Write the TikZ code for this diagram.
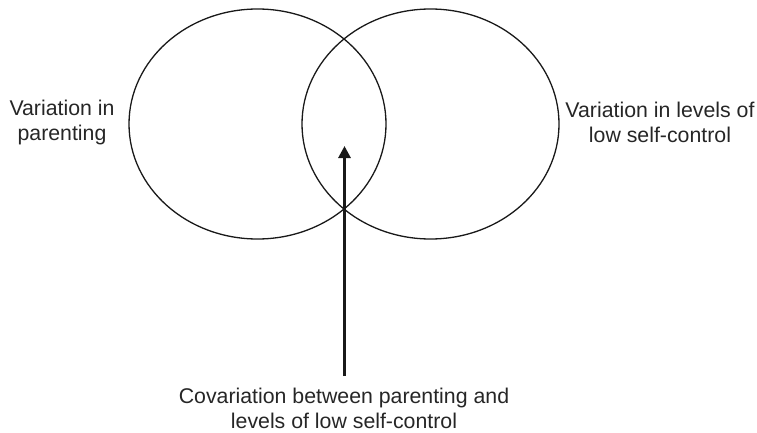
\documentclass[tikz,border=0pt]{standalone}
\usepackage{fontspec}
\setmainfont{Liberation Sans}
\usetikzlibrary{arrows.meta}
\begin{document}
\begin{tikzpicture}[x=1pt,y=-1pt,
  lab/.style={inner sep=0pt,align=center,font=\fontsize{21.3}{25}\selectfont,text=black!85},
  venn/.style={draw=black!90,line width=1.3pt}]
\useasboundingbox (0,0) rectangle (757,433);
\draw[venn] (257.5,124) ellipse [x radius=128.5, y radius=115];
\draw[venn] (430.5,124) ellipse [x radius=128.5, y radius=115];
\node[lab] (left) at (62,122.5) {Variation in\\parenting};
\node[lab] (right) at (660,122.5) {Variation in levels of\\low self-control};
\node[lab] (cov) at (344,408) {Covariation between parenting and\\levels of low self-control};
\coordinate (tail) at (344.5,376);
\coordinate (tip) at (344.5,146);
\draw[line width=2.8pt,draw=black!90,-{Triangle[length=12pt,width=12pt]}] (tail) -- (tip);
\end{tikzpicture}
\end{document}
